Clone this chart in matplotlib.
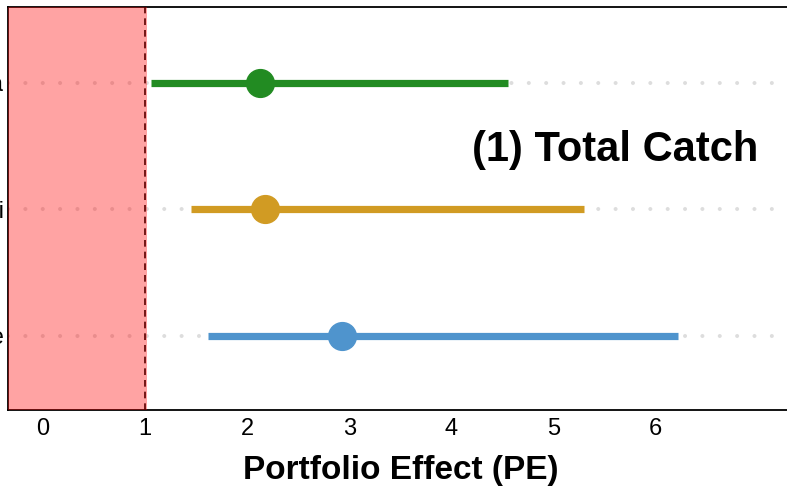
import matplotlib
matplotlib.use("Agg")
import matplotlib.pyplot as plt

# Portfolio effect estimates (point + interval) per region
regions = ["Alaska", "Hawaii", "Gulf of Maine"]
pe_mid = [2.12, 2.17, 2.93]
pe_low = [1.06, 1.45, 1.62]
pe_high = [4.55, 5.30, 6.22]
colors = ["#228B22", "#D19B23", "#4F94CD"]
xticks = [0, 1, 2, 3, 4, 5, 6]

plt.rcParams['font.family'] = ['Liberation Sans', 'DejaVu Sans']

fig = plt.figure(figsize=(7.87, 4.88), dpi=100)
# axes runs past the right edge of the figure (cropped panel)
ax = fig.add_axes([8 / 787, 78 / 488, 801 / 787, 403 / 488])

xmin, xmax = -0.343, 7.5
ypos = [3, 2, 1]

# dotted guide lines for each row
for y in ypos:
    ax.plot([xmin, xmax], [y, y], color="#DDDDDD", lw=2.9,
            linestyle=(0, (0.01, 4.3)), dash_capstyle="round", zorder=1)

for y, lo, hi, mid, c in zip(ypos, pe_low, pe_high, pe_mid, colors):
    ax.plot([lo, hi], [y, y], color=c, lw=5.2, solid_capstyle="butt", zorder=2)
    ax.plot(mid, y, "o", color=c, markersize=20, zorder=3)

ax.axvline(1, color="black", lw=1.2, linestyle=(0, (4, 3)), zorder=4)
ax.axvspan(xmin - 1, 1.02, color="red", alpha=0.36, lw=0, zorder=5)

ax.text(7.0, 2.47, "(1) Total Catch", fontsize=30, fontweight="bold",
        ha="right", va="center")

ax.set_xlim(xmin, xmax)
ax.set_ylim(0.415, 3.6)
ax.set_xticks(xticks)
ax.set_xticklabels([str(t) for t in xticks], fontsize=17)
ax.set_yticks(ypos)
ax.set_yticklabels(regions, fontsize=17)
ax.tick_params(axis="both", length=0)
ax.tick_params(axis="x", pad=6)
ax.tick_params(axis="y", pad=3)
for s in ax.spines.values():
    s.set_linewidth(1.3)
ax.spines["right"].set_visible(False)

fig.text(401 / 787, 1 - 470 / 488, "Portfolio Effect (PE)", fontsize=24,
         fontweight="bold", ha="center", va="center")

fig.savefig("out.png", dpi=100)
